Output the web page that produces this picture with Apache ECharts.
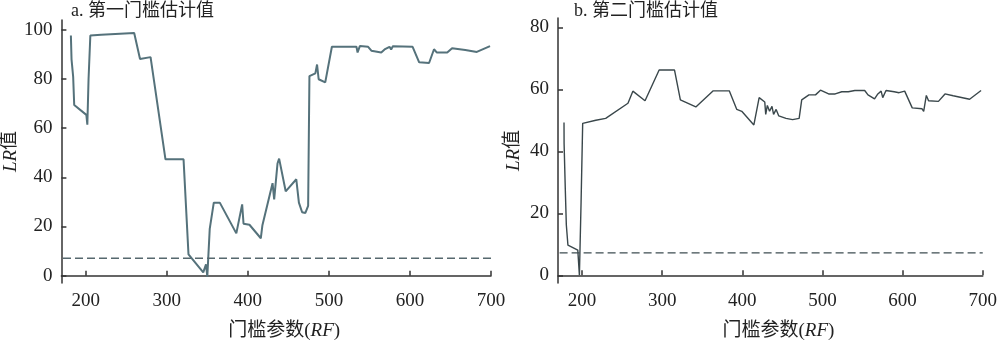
<!DOCTYPE html>
<html>
<head>
<meta charset="utf-8">
<script src="https://cdn.jsdelivr.net/npm/echarts@6/dist/echarts.min.js"></script>
<style>
  html, body { margin: 0; padding: 0; background: #fff; }
  #chart { width: 1000px; height: 346px; }
</style>
</head>
<body>
<div id="chart"></div>
<script>
// 刻度
var xTicks = [200, 300, 400, 500, 600, 700];
var yTicksA = [0, 20, 40, 60, 80, 100];
var yTicksB = [0, 20, 40, 60, 80];

// a. 第一门槛 LR 值 [门槛参数, LR]
var lrFirst = [
  [181.7, 97.7], [182.5, 88], [184.5, 81], [185.8, 69.4], [200.8, 65.4], [202, 61.4],
  [203.5, 80], [205.7, 97.7], [219, 98], [259.8, 98.7], [267, 88.1], [280, 88.9],
  [298.4, 47.3], [320.7, 47.3], [326.8, 8.6], [345, 1.3], [348.4, 4.6], [350, -0.4],
  [353, 19], [358, 29.7], [365.4, 29.7], [385.8, 17.2], [393, 29], [394.7, 21.1],
  [402, 20.7], [416, 15.2], [418, 20.5], [430.5, 37.6], [432.5, 31], [436.6, 45.6],
  [438.6, 47.6], [446.7, 34.3], [459.8, 39.2], [463, 29.7], [467, 25.8], [471, 25.5],
  [474.4, 28.4], [476, 81.2], [483.3, 82.3], [485.4, 85.9], [487.4, 79.9], [495.5, 78.6],
  [497.5, 77.9], [503.7, 93.1], [534, 93.1], [535.4, 90.8], [538.2, 93.4], [548.4, 93.1],
  [552.4, 91.5], [564.6, 90.8], [568.7, 92], [574.8, 93.1], [576.8, 92], [578.9, 93.3],
  [603.3, 93.1], [611.4, 86.8], [623.6, 86.5], [625.6, 85.9], [629.7, 92.1], [633, 90.8],
  [646, 90.8], [652, 92.5], [668.3, 91.8], [682.5, 91], [698.8, 93.4]
];

// b. 第二门槛 LR 值
var lrSecond = [
  [177.5, 49.3], [177.6, 42.5], [179.1, 27.8], [180.4, 16.2], [182.4, 9.7], [194.7, 8.1],
  [196.7, 0], [198.8, 23.6], [200.8, 49], [217.2, 50], [229.5, 50.6], [257.3, 55.5],
  [263.4, 59.4], [278.6, 56.3], [296.2, 66.2], [315.4, 66.2], [322.7, 56.6], [342, 54.3],
  [363.7, 59.5], [383.7, 59.5], [393.1, 53.5], [399.3, 52.9], [414.4, 48.5], [421, 57.3],
  [428, 55.9], [429.2, 51.9], [431.2, 54.8], [434, 52.9], [437, 54.5], [439, 51.9],
  [442.2, 53.5], [445.5, 51.4], [454.5, 50.6], [462.7, 50.2], [470.9, 50.6], [474.1, 56.6],
  [483.1, 58.2], [491.3, 58.2], [497.5, 59.7], [507.7, 58.5], [515.9, 58.5], [524.1, 59.2],
  [532.2, 59.2], [534.2, 58.6], [540.4, 59.6], [552.7, 59.6], [556.8, 58.2], [565, 56.9],
  [569.1, 58.5], [573.2, 59.4], [575.2, 57.3], [579.3, 59.6], [589.5, 59.2], [595.6, 58.9],
  [602.6, 59.4], [612, 54], [624.3, 53.7], [626.3, 52.9], [629.6, 58], [632.4, 56.3],
  [644.7, 56.1], [652.9, 58.5], [663.1, 57.9], [683.6, 56.8], [697.9, 59.6]
];

// 临界值
var critFirst = 7.1;
var critSecond = 7.2;
var xRange = [170, 700];

var chart = echarts.init(document.getElementById('chart'));
var serif = '"Liberation Serif", "Noto Sans CJK SC", serif';

function xAxisOf(gridIndex) {
  return {
    type: 'value', gridIndex: gridIndex, min: xRange[0], max: xRange[1],
    name: '门槛参数({i|RF})', nameLocation: 'middle', nameGap: 39,
    nameTextStyle: {
      fontFamily: serif, fontSize: 19, color: '#222', padding: [0, 0, 0, 16],
      rich: { i: { fontFamily: serif, fontStyle: 'italic', fontSize: 19, color: '#222' } }
    },
    axisLine: { show: true, lineStyle: { color: '#333', width: 1.5 } },
    axisTick: { show: true, inside: true, length: 5, customValues: xTicks, lineStyle: { color: '#333', width: 1.5 } },
    axisLabel: { customValues: xTicks, margin: 9, fontFamily: serif, fontSize: 19, color: '#222' },
    splitLine: { show: false }
  };
}

function yAxisOf(gridIndex, min, max, ticks, gap) {
  return {
    type: 'value', gridIndex: gridIndex, min: min, max: max,
    name: '{i|LR}值', nameLocation: 'middle', nameGap: gap, nameRotate: 90,
    nameTextStyle: {
      fontFamily: serif, fontSize: 19, color: '#222',
      rich: { i: { fontFamily: serif, fontStyle: 'italic', fontSize: 19, color: '#222' } }
    },
    axisLine: { show: true, lineStyle: { color: '#333', width: 1.5 } },
    axisTick: { show: true, inside: true, length: 5, customValues: ticks, lineStyle: { color: '#333', width: 1.5 } },
    axisLabel: { customValues: ticks, margin: 9, fontFamily: serif, fontSize: 19, color: '#222' },
    splitLine: { show: false }
  };
}

chart.setOption({
  animation: false,
  backgroundColor: '#fff',
  title: [
    { text: 'a. 第一门槛估计值', left: 66, top: -3, textStyle: { fontFamily: serif, fontSize: 18, fontWeight: 'normal', color: '#222' } },
    { text: 'b. 第二门槛估计值', left: 569, top: -3, textStyle: { fontFamily: serif, fontSize: 18, fontWeight: 'normal', color: '#222' } }
  ],
  grid: [
    { left: 56, right: 509, top: 20, bottom: 57 },
    { left: 558, right: 10, top: 18, bottom: 56 }
  ],
  xAxis: [xAxisOf(0), xAxisOf(1)],
  yAxis: [
    yAxisOf(0, -3, 104, yTicksA, 36),
    yAxisOf(1, -2.5, 83, yTicksB, 35)
  ],
  series: [
    {
      type: 'line', xAxisIndex: 0, yAxisIndex: 0, data: lrFirst, showSymbol: false,
      lineStyle: { color: '#55727b', width: 2 }
    },
    {
      type: 'line', xAxisIndex: 0, yAxisIndex: 0, showSymbol: false,
      data: [[xRange[0] + 2, critFirst], [xRange[1], critFirst]],
      lineStyle: { color: '#56686e', width: 1.5, type: [8, 4] }
    },
    {
      type: 'line', xAxisIndex: 1, yAxisIndex: 1, data: lrSecond, showSymbol: false,
      lineStyle: { color: '#3a474b', width: 1.4 }
    },
    {
      type: 'line', xAxisIndex: 1, yAxisIndex: 1, showSymbol: false,
      data: [[xRange[0] + 2, critSecond], [xRange[1], critSecond]],
      lineStyle: { color: '#3e4d52', width: 1.3, type: [8, 4] }
    }
  ]
});
</script>
</body>
</html>
